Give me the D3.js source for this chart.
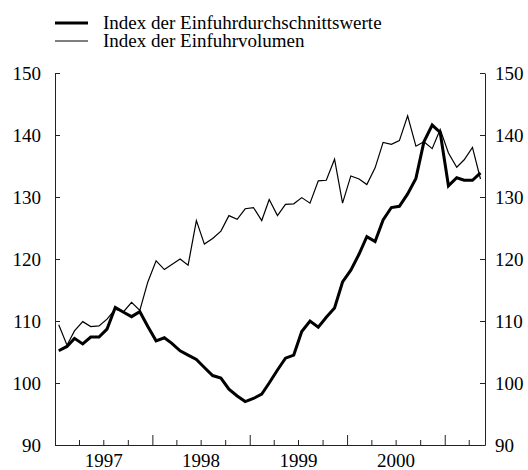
<!DOCTYPE html>
<html>
<head>
<meta charset="utf-8">
<script src="https://cdnjs.cloudflare.com/ajax/libs/d3/7.8.5/d3.min.js"></script>
<style>
body { margin: 0; background: #fff; }
text { font-family: "Liberation Serif", "Times New Roman", serif; fill: #000; }
</style>
</head>
<body>
<div id="chart-area"></div>
<script>
// monthly values, Jan 1997 - May 2001
var firstMonth = "1997-01";
var durchschnittswerte = [105.2, 105.9, 107.2, 106.3, 107.4, 107.4, 108.7, 112.2, 111.4, 110.7, 111.5, 109.1,
    106.8, 107.3, 106.4, 105.2, 104.5, 103.8, 102.5, 101.2, 100.8, 99.0, 97.9, 97.0,
    97.5, 98.2, 100.0, 102.1, 104.0, 104.5, 108.3, 110.0, 109.0, 110.6, 112.1, 116.3,
    118.2, 120.8, 123.6, 122.8, 126.3, 128.3, 128.5, 130.5, 133.0, 138.9, 141.6, 140.4,
    131.8, 133.1, 132.7, 132.7, 133.9];
var volumen = [109.4, 106.1, 108.4, 109.9, 109.1, 109.2, 110.3, 111.9, 111.5, 113.0, 111.7, 116.3,
    119.7, 118.3, 119.1, 120.0, 119.0, 126.2, 122.4, 123.3, 124.5, 127.0, 126.4, 128.1,
    128.3, 126.2, 129.6, 127.0, 128.8, 128.9, 129.9, 129.0, 132.6, 132.7, 136.1, 129.0,
    133.4, 132.9, 132.0, 134.7, 138.8, 138.5, 139.1, 143.1, 138.2, 138.9, 137.8, 140.9,
    137.1, 134.8, 136.0, 138.0, 132.9];
var yTicks = [90, 100, 110, 120, 130, 140, 150];
var years = [1997, 1998, 1999, 2000];
var legendLabels = ["Index der Einfuhrdurchschnittswerte", "Index der Einfuhrvolumen"];

var width = 528;
var height = 470;
var margin = {top: 73, right: 43, bottom: 25, left: 55};
var innerW = width - margin.left - margin.right;
var innerH = height - margin.top - margin.bottom;

var svg = d3.select("#chart-area").append("svg")
    .attr("width", width)
    .attr("height", height);

var group = svg.append("g")
    .attr("transform", "translate(" + margin.left + "," + margin.top + ")");

var parseMonth = d3.timeParse("%Y-%m");
var start = parseMonth(firstMonth);
var months = durchschnittswerte.map((d, i) => d3.timeDay.offset(d3.timeMonth.offset(start, i), 14));

var x = d3.scaleTime()
    .domain([start, new Date(2001, 5, 1)])
    .range([0, innerW]);

var y = d3.scaleLinear()
    .domain([90, 150])
    .range([innerH, 0]);

// axes
var axisColor = "#222";
var bottomAxis = d3.axisBottom(x)
    .tickValues(d3.timeMonth.range(start, new Date(2001, 5, 1), 3))
    .tickSizeInner(-5)
    .tickSizeOuter(0)
    .tickFormat("");
var xAxisG = group.append("g")
    .attr("class", "bottom axis")
    .attr("transform", "translate(0," + innerH + ")")
    .call(bottomAxis);
xAxisG.selectAll(".tick line")
    .attr("y2", (d) => d.getMonth() === 0 ? -10 : -5);
xAxisG.selectAll("line, path").attr("stroke", axisColor);

group.selectAll(".year-label")
    .data(years)
    .enter()
    .append("text")
    .attr("class", "year-label")
    .attr("x", (d) => (x(new Date(d, 0, 1)) + x(new Date(d + 1, 0, 1))) / 2)
    .attr("y", innerH + 22)
    .attr("text-anchor", "middle")
    .attr("font-size", "19px")
    .text((d) => d);

var leftAxis = d3.axisLeft(y)
    .tickValues(yTicks)
    .tickSizeInner(-5)
    .tickSizeOuter(0)
    .tickPadding(14);
var leftG = group.append("g")
    .attr("class", "left axis")
    .call(leftAxis);

var rightAxis = d3.axisRight(y)
    .tickValues(yTicks)
    .tickSizeInner(-5)
    .tickSizeOuter(0)
    .tickPadding(10);
var rightG = group.append("g")
    .attr("class", "right axis")
    .attr("transform", "translate(" + innerW + ",0)")
    .call(rightAxis);

group.selectAll(".axis").selectAll("line, path").attr("stroke", axisColor);
group.selectAll(".axis text")
    .attr("font-family", "Liberation Serif, serif")
    .attr("font-size", "19px")
    .attr("fill", "#000");

// lines
var line = d3.line()
    .x((d, i) => x(months[i]))
    .y((d) => y(d));

group.append("path")
    .datum(volumen)
    .attr("fill", "none")
    .attr("stroke", "#000")
    .attr("stroke-width", 1.2)
    .attr("stroke-linejoin", "miter")
    .attr("d", line);

group.append("path")
    .datum(durchschnittswerte)
    .attr("fill", "none")
    .attr("stroke", "#000")
    .attr("stroke-width", 3)
    .attr("stroke-linejoin", "miter")
    .attr("d", line);

// legend
var legend = svg.append("g")
    .attr("transform", "translate(55,23)");
legendLabels.forEach((label, i) => {
    legend.append("line")
        .attr("x1", 0)
        .attr("x2", 33)
        .attr("y1", i * 18)
        .attr("y2", i * 18)
        .attr("stroke", "#000")
        .attr("stroke-width", i === 0 ? 3 : 1.2);
    legend.append("text")
        .attr("x", 48)
        .attr("y", i * 18 + 5.5)
        .attr("font-size", "19px")
        .text(label);
});
</script>
</body>
</html>
